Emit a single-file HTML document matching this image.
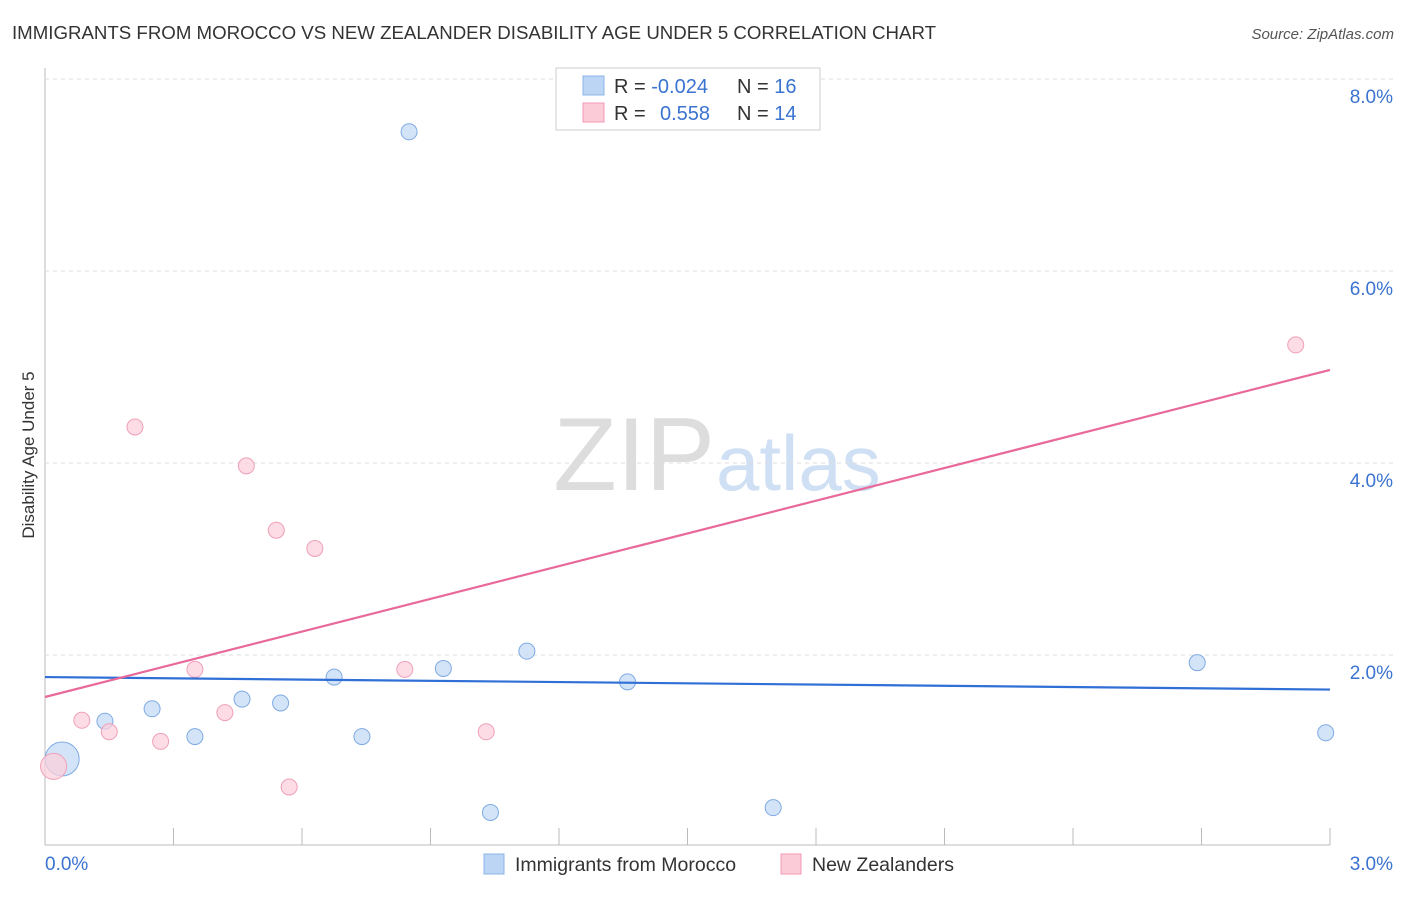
<!DOCTYPE html>
<html><head><meta charset="utf-8"><style>
body{margin:0;background:#fff;font-family:"Liberation Sans",sans-serif;}
svg text{font-family:"Liberation Sans",sans-serif;}
</style></head><body>
<svg id="c" width="1406" height="892" xmlns="http://www.w3.org/2000/svg">
<text x="12" y="39" font-size="18" fill="#333" textLength="924" lengthAdjust="spacingAndGlyphs">IMMIGRANTS FROM MOROCCO VS NEW ZEALANDER DISABILITY AGE UNDER 5 CORRELATION CHART</text>
<text x="1394" y="39" font-size="15" fill="#555" font-style="italic" text-anchor="end">Source: ZipAtlas.com</text>
<text x="34" y="455" font-size="17" fill="#333" text-anchor="middle" transform="rotate(-90 34 455)">Disability Age Under 5</text>
<text x="715" y="490" font-size="104" fill="#ddd" text-anchor="end" font-family="Liberation Serif">ZIP</text>
<text x="716" y="490" font-size="78" fill="#cfe0f5">atlas</text>
<g id="grid"></g><g id="marks"></g>
<g>
<rect x="556" y="68" width="264" height="62" fill="#fff" stroke="#ccc"/>
<rect x="583" y="76" width="21" height="19" fill="#bcd5f5" stroke="#8db4e8"/>
<rect x="583" y="103" width="21" height="19" fill="#fccbd8" stroke="#f09ab3"/>
<text x="614" y="93" font-size="20" fill="#333">R = <tspan fill="#3a73d0">-0.024</tspan></text>
<text x="737" y="93" font-size="20" fill="#333">N = <tspan fill="#3a73d0">16</tspan></text>
<text x="614" y="120" font-size="20" fill="#333">R = <tspan fill="#3a73d0" x="660">0.558</tspan></text>
<text x="737" y="120" font-size="20" fill="#333">N = <tspan fill="#3a73d0">14</tspan></text>
</g>
<g>
<rect x="484" y="854" width="20" height="20" fill="#bcd5f5" stroke="#8db4e8"/>
<text x="515" y="871" font-size="19.5" fill="#333">Immigrants from Morocco</text>
<rect x="781" y="854" width="20" height="20" fill="#fccbd8" stroke="#f09ab3"/>
<text x="812" y="871" font-size="19.5" fill="#333">New Zealanders</text>
</g>
</svg>
<script>
const yTicks=[2,4,6,8];
const xTickLabels=["0.0%","3.0%"];
const blueX=[0.04,0.14,0.25,0.35,0.46,0.55,0.675,0.74,0.85,0.93,1.04,1.125,1.36,1.70,2.69,2.99];
const blueY=[0.917,1.31,1.44,1.15,1.54,1.5,1.77,1.15,7.45,1.86,0.36,2.04,1.72,0.41,1.92,1.19];
const pinkX=[0.02,0.086,0.15,0.21,0.27,0.35,0.42,0.47,0.54,0.57,0.63,0.84,1.03,2.92];
const pinkY=[0.84,1.32,1.2,4.375,1.10,1.85,1.40,3.97,3.30,0.625,3.11,1.85,1.20,5.23];
const blueTrend=[1.77,1.64];
const pinkTrend=[1.5625,4.97];
const X=v=>45+v*428.33, Y=v=>847-v*96;
const NS="http://www.w3.org/2000/svg";
const grid=document.getElementById('grid'), marks=document.getElementById('marks');
function mk(tag,attrs,parent){const e=document.createElementNS(NS,tag);for(const k in attrs)e.setAttribute(k,attrs[k]);parent.appendChild(e);return e;}
let ax=mk('line',{x1:45,y1:68,x2:45,y2:845,stroke:'#bbb'},grid);


let bx=mk('line',{x1:45,y1:845,x2:1330,y2:845,stroke:'#bbb'},grid);


yTicks.forEach(t=>{
 let g=mk('line',{x1:45,x2:1394,y1:Y(t),y2:Y(t),stroke:'#ddd','stroke-dasharray':'4,4'},grid);
 
 
 let tx=mk('text',{x:1393,y:Y(t)+24,'font-size':19,fill:'#3a73d0','text-anchor':'end'},grid);
 tx.textContent=t.toFixed(1)+'%';
 
 
});
for(let i=1;i<=10;i++){
 let l=mk('line',{x1:X(i*0.3),x2:X(i*0.3),y1:828,y2:845,stroke:'#bbb'},grid);
 
 
}
[[0,'start',45],[3,'end',1393]].forEach((d,i)=>{
 let tx=mk('text',{x:d[2],y:870,'font-size':19,fill:'#3a73d0','text-anchor':d[1]},grid);
 tx.textContent=xTickLabels[i];
 
 
});
function pts(xs,ys,fill,stroke,name,bigR){
 xs.forEach((x,i)=>{
  let c=mk('circle',{cx:X(x),cy:Y(ys[i]),r:i===0?bigR:8,fill:fill,'fill-opacity':0.75,stroke:stroke,'stroke-width':1},marks);
  
  
 });
}
pts(blueX,blueY,'#c5dbf6','#7eaae3','point-morocco',17);
pts(pinkX,pinkY,'#fcd0dc','#eea0b8','point-new-zealanders',13);
let bl=mk('line',{x1:X(0),y1:Y(blueTrend[0]),x2:X(3),y2:Y(blueTrend[1]),stroke:'#2f6fd6','stroke-width':2.2},marks);


let pl=mk('line',{x1:X(0),y1:Y(pinkTrend[0]),x2:X(3),y2:Y(pinkTrend[1]),stroke:'#e8699a','stroke-width':2.2},marks);


</script>
</body></html>
